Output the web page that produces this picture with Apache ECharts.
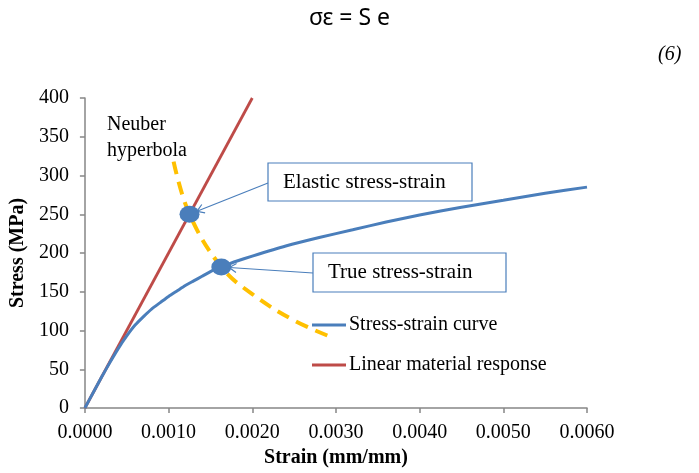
<!DOCTYPE html>
<html>
<head>
<meta charset="utf-8">
<script src="https://cdn.jsdelivr.net/npm/echarts@6/dist/echarts.min.js"></script>
<style>
html,body{margin:0;padding:0;background:#fff;}
#c{width:699px;height:473px;}
</style>
</head>
<body>
<div id="c"></div>
<script>
// ---- data ----
const stressStrainCurve = [
  [0, 0], [0.0001, 20], [0.0002, 40], [0.0003, 59], [0.0004, 77], [0.0005, 93],
  [0.0006, 107], [0.0007, 118], [0.0008, 128], [0.0009, 136], [0.001, 144],
  [0.0011, 151], [0.0012, 158], [0.0013, 164], [0.0014, 170], [0.0015, 176],
  [0.0016, 181], [0.0017, 185], [0.0018, 189], [0.002, 196], [0.0024, 209],
  [0.0028, 220], [0.0032, 230], [0.0036, 240], [0.004, 249], [0.0045, 259],
  [0.005, 268], [0.0055, 277], [0.006, 285]
];
const linearResponse = [[0, 0], [0.002, 400]];
const neuberHyperbola = [
  [0.00106, 318], [0.00125, 250], [0.00163, 182], [0.002, 147], [0.0025, 113], [0.00298, 90]
];
const elasticPoint = [0.00125, 250];
const truePoint = [0.00163, 182];
const xTicks = { min: 0, max: 0.006, interval: 0.001 };
const yTicks = { min: 0, max: 400, interval: 50 };
const seriesNames = ['Stress-strain curve', 'Linear material response', 'Neuber hyperbola'];
const annotationTexts = ['Elastic stress-strain', 'True stress-strain'];

const BLUE = '#4A7EBB', RED = '#BE4B48', YELLOW = '#FFC000', AXIS = '#868686';
const SERIF = '"Liberation Serif", "Times New Roman", serif';

const chart = echarts.init(document.getElementById('c'), null, { renderer: 'canvas' });

const option = {
  animation: false,
  backgroundColor: '#fff',
  grid: { left: 83, right: 112, top: 98, bottom: 63, containLabel: false },
  xAxis: {
    type: 'value', min: xTicks.min, max: xTicks.max, interval: xTicks.interval,
    name: 'Strain (mm/mm)', nameLocation: 'middle', nameGap: 40,
    nameTextStyle: { fontFamily: SERIF, fontWeight: 'bold', fontSize: 20, color: '#000' },
    axisLine: { show: true, lineStyle: { color: AXIS, width: 1.5 } },
    axisTick: { show: true, length: 5, lineStyle: { color: AXIS, width: 1.5 } },
    axisLabel: { fontFamily: SERIF, fontSize: 20, color: '#000', margin: 15,
      formatter: v => v.toFixed(4) },
    splitLine: { show: false }
  },
  yAxis: {
    type: 'value', min: yTicks.min, max: yTicks.max, interval: yTicks.interval,
    name: 'Stress (MPa)', nameLocation: 'middle', nameGap: 50, nameRotate: 90,
    nameTextStyle: { fontFamily: SERIF, fontWeight: 'bold', fontSize: 20, color: '#000' },
    axisLine: { show: true, lineStyle: { color: AXIS, width: 1.5 } },
    axisTick: { show: true, length: 5, lineStyle: { color: AXIS, width: 1.5 } },
    axisLabel: { fontFamily: SERIF, fontSize: 20, color: '#000', margin: 16 },
    splitLine: { show: false }
  },
  legend: {
    data: [seriesNames[0], seriesNames[1]],
    orient: 'vertical', left: 312, top: 315, padding: 0,
    icon: 'rect', itemWidth: 34, itemHeight: 3, itemGap: 20,
    textStyle: { fontFamily: SERIF, fontSize: 20, color: '#000', lineHeight: 20, padding: [0,0,0,-2] }
  },
  series: [
    {
      name: seriesNames[2], type: 'line', data: neuberHyperbola, smooth: 0.4,
      showSymbol: false, z: 2,
      lineStyle: { color: YELLOW, width: 4, type: [13, 8] }, itemStyle: { color: YELLOW }
    },
    {
      name: seriesNames[1], type: 'line', data: linearResponse,
      showSymbol: false, z: 3,
      lineStyle: { color: RED, width: 2.8 }, itemStyle: { color: RED }
    },
    {
      name: seriesNames[0], type: 'line', data: stressStrainCurve, smooth: 0.2,
      showSymbol: false, z: 4,
      lineStyle: { color: BLUE, width: 3 }, itemStyle: { color: BLUE }
    },
    {
      name: 'points', type: 'scatter', data: [elasticPoint, truePoint],
      symbol: 'circle', symbolSize: [20, 17], z: 5,
      itemStyle: { color: BLUE, opacity: 1 }
    }
  ]
};
chart.setOption(option);

function arrow(from, toPt, back) {
  const dx = toPt[0] - from[0], dy = toPt[1] - from[1];
  const len = Math.sqrt(dx*dx + dy*dy);
  const ux = dx/len, uy = dy/len;
  const tip = [toPt[0] - ux*back, toPt[1] - uy*back];
  const a = 7, w = 4.5;
  const p1 = [tip[0] - ux*a - uy*w, tip[1] - uy*a + ux*w];
  const p2 = [tip[0] - ux*a + uy*w, tip[1] - uy*a - ux*w];
  return [
    { type: 'line', shape: { x1: from[0], y1: from[1], x2: tip[0], y2: tip[1] },
      style: { stroke: BLUE, lineWidth: 1.2 }, z: 10 },
    { type: 'polyline', shape: { points: [p1, tip, p2] },
      style: { stroke: BLUE, lineWidth: 1.2, fill: null }, z: 10 }
  ];
}

const pe = chart.convertToPixel({ gridIndex: 0 }, elasticPoint);
const pt = chart.convertToPixel({ gridIndex: 0 }, truePoint);

const boxE = { x: 268, y: 163, w: 204, h: 38 };
const boxT = { x: 313, y: 253, w: 193, h: 39 };

const graphics = [
  { type: 'text', left: 'center', top: 7,
    style: { text: 'σε = S e', font: '23px "Noto Sans", "DejaVu Sans", sans-serif', fill: '#000' } },
  { type: 'text', left: 658, top: 45,
    style: { text: '(6)', font: 'italic 20px "Liberation Serif", serif', fill: '#000' } },
  { type: 'text', left: 107, top: 112,
    style: { text: 'Neuber\nhyperbola', font: '20px ' + SERIF, fill: '#000', lineHeight: 26 } },
  ...arrow([boxE.x, boxE.y + 20], pe, 8),
  ...arrow([boxT.x, boxT.y + 20], pt, 8),
  { type: 'rect', shape: { x: boxE.x, y: boxE.y, width: boxE.w, height: boxE.h },
    style: { fill: '#fff', stroke: BLUE, lineWidth: 1.2 }, z: 11 },
  { type: 'text', x: boxE.x + 15, y: boxE.y + boxE.h/2, z: 12,
    style: { text: annotationTexts[0], font: '21px ' + SERIF, fill: '#000', verticalAlign: 'middle' } },
  { type: 'rect', shape: { x: boxT.x, y: boxT.y, width: boxT.w, height: boxT.h },
    style: { fill: '#fff', stroke: BLUE, lineWidth: 1.2 }, z: 11 },
  { type: 'text', x: boxT.x + 15, y: boxT.y + boxT.h/2, z: 12,
    style: { text: annotationTexts[1], font: '21px ' + SERIF, fill: '#000', verticalAlign: 'middle' } }
];
chart.setOption({ graphic: graphics });
</script>
</body>
</html>
